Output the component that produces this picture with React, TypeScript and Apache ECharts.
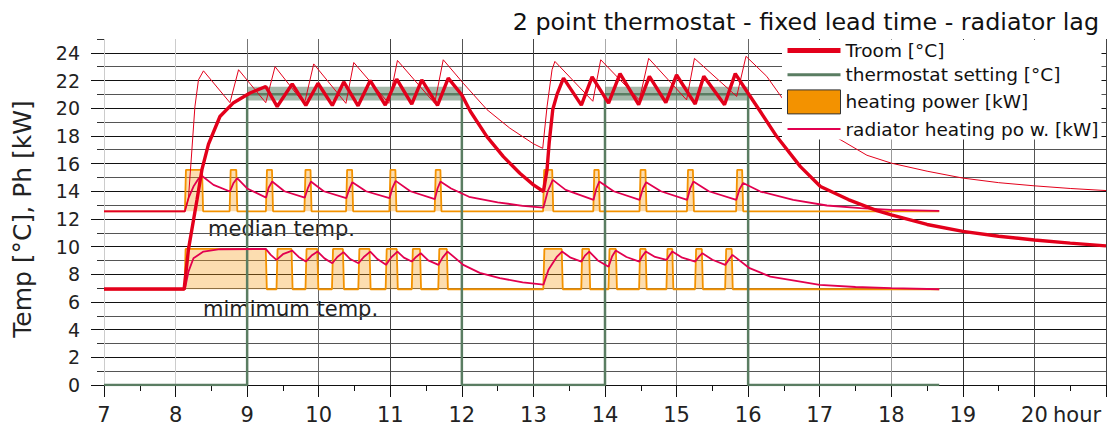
import React, { useEffect, useRef } from "react";
import * as echarts from "echarts";

const FONT = '"DejaVu Sans", "Liberation Sans", sans-serif';

// ---------- data ----------
const xLabelValues = [7, 8, 9, 10, 11, 12, 13, 14, 15, 16, 17, 18, 19, 20];
const yLabelValues = [0, 2, 4, 6, 8, 10, 12, 14, 16, 18, 20, 22, 24];

// thermostat schedule
const thermostatSetting: [number, number][] = [
  [7, 0], [9, 0], [9, 21], [12, 21], [12, 0], [14, 0], [14, 21], [16, 21], [16, 0], [18.67, 0],
];
const thermostatBand = { low: 20.55, high: 21.55 };
const thermostatOnPeriods: [number, number][] = [[9, 12], [14, 16]];

// Troom, minimum-temp scenario (thick line)
const troomMin: [number, number][] = [
  [7, 6.94], [8.12, 6.94], [8.18, 9.8], [8.3, 13.4], [8.37, 15.6], [8.46, 17.4], [8.62, 19.4],
  [8.81, 20.4], [9.04, 21.1], [9.26, 21.57], [9.42, 20.12], [9.63, 21.76], [9.82, 20.2],
  [9.99, 21.8], [10.19, 20.2], [10.35, 21.9], [10.55, 20.17], [10.72, 22.0], [10.93, 20.22],
  [11.09, 22.1], [11.3, 20.3], [11.44, 22.05], [11.66, 20.2], [11.81, 22.17], [12.0, 20.95],
  [12.12, 19.76], [12.35, 17.95], [12.58, 16.5], [12.81, 15.3], [13.0, 14.46], [13.14, 13.98],
  [13.19, 15.55], [13.22, 17.5], [13.27, 19.9], [13.33, 21.0], [13.42, 22.17], [13.67, 20.22],
  [13.82, 22.27], [14.05, 20.37], [14.21, 22.49], [14.47, 20.25], [14.62, 22.3], [14.85, 20.4],
  [15.0, 22.4], [15.26, 20.3], [15.38, 22.3], [15.67, 20.25], [15.82, 22.5], [15.99, 21.15],
  [16.17, 19.76], [16.4, 17.95], [16.73, 15.78], [17.01, 14.34], [17.4, 13.4], [17.8, 12.6],
  [18.0, 12.3], [18.5, 11.6], [19.0, 11.1], [19.5, 10.75], [20.0, 10.48], [20.5, 10.25], [21.0, 10.05],
];

// Troom, median-temp scenario (thin line)
const troomMedian: [number, number][] = [
  [7, 12.55], [8.13, 12.55], [8.18, 13.5], [8.22, 16.4], [8.27, 20.1], [8.32, 22.05], [8.39, 22.7],
  [8.76, 20.4], [8.88, 22.78], [9.26, 20.4], [9.39, 23.0], [9.8, 20.3], [9.93, 23.2],
  [10.38, 20.35], [10.49, 23.3], [10.98, 20.35], [11.1, 23.45], [11.62, 20.35], [11.74, 23.5],
  [12.02, 21.8], [12.35, 19.9], [12.67, 18.56], [13.0, 17.43], [13.13, 17.1], [13.19, 20.1],
  [13.26, 22.78], [13.3, 23.38], [13.83, 20.5], [13.94, 23.5], [14.48, 20.6], [14.61, 23.6],
  [15.14, 20.6], [15.25, 23.6], [15.84, 20.85], [15.97, 23.75], [16.26, 22.3], [16.48, 20.7],
  [17.0, 18.6], [17.66, 16.6], [18.0, 16.03], [18.5, 15.45], [19.0, 14.95], [19.5, 14.62],
  [20.0, 14.39], [20.5, 14.2], [21.0, 14.05],
];

// heating power pulses [on, off] in hours
const powerMedianPulses: [number, number][] = [
  [8.13, 8.37], [8.755, 8.848], [9.262, 9.347], [9.8, 9.885], [10.382, 10.466], [10.987, 11.071],
  [11.62, 11.7], [13.135, 13.262], [13.836, 13.912], [14.482, 14.565], [15.145, 15.228], [15.832, 15.916],
];
const powerMedianBase = 12.55;
const powerMedianOn = 15.55;

const powerMinPulses: [number, number][] = [
  [8.125, 9.26], [9.41, 9.62], [9.815, 9.98], [10.185, 10.338], [10.553, 10.71], [10.935, 11.09],
  [11.3, 11.415], [11.67, 11.79], [13.138, 13.395], [13.668, 13.778], [14.048, 14.152],
  [14.476, 14.567], [14.858, 14.94], [15.258, 15.353], [15.678, 15.77],
];
const powerMinBase = 6.92;
const powerMinOn = 9.83;
const powerEnd = 18.67;

// radiator heating power
const radiatorMedian: [number, number][] = [
  [7, 12.55], [8.13, 12.55], [8.18, 13.5], [8.25, 14.34], [8.32, 14.9], [8.37, 15.1], [8.53, 14.46],
  [8.76, 13.98], [8.81, 14.6], [8.86, 14.94], [9.0, 14.2], [9.265, 13.54], [9.3, 14.25], [9.35, 14.7],
  [9.52, 14.0], [9.805, 13.54], [9.85, 14.25], [9.89, 14.7], [10.07, 14.0], [10.385, 13.5],
  [10.43, 14.2], [10.47, 14.65], [10.66, 14.0], [10.99, 13.5], [11.03, 14.25], [11.075, 14.75],
  [11.28, 14.0], [11.623, 13.43], [11.66, 14.2], [11.7, 14.7], [11.85, 14.2], [12.1, 13.6],
  [12.5, 13.2], [12.85, 12.95], [13.14, 12.82], [13.2, 14.0], [13.27, 14.82], [13.45, 14.1],
  [13.84, 13.38], [13.88, 14.2], [13.92, 14.7], [14.12, 14.0], [14.484, 13.38], [14.53, 14.2],
  [14.575, 14.65], [14.78, 14.0], [15.148, 13.38], [15.19, 14.2], [15.235, 14.7], [15.45, 14.0],
  [15.835, 13.38], [15.88, 14.15], [15.93, 14.6], [16.17, 13.98], [16.63, 13.38], [17.1, 12.97],
  [17.57, 12.78], [18.0, 12.65], [18.67, 12.58],
];

const radiatorMin: [number, number][] = [
  [7, 6.92], [8.13, 6.92], [8.18, 8.19], [8.25, 9.16], [8.39, 9.64], [8.62, 9.81], [9.26, 9.83],
  [9.33, 9.4], [9.41, 9.04], [9.5, 9.45], [9.63, 9.71], [9.72, 9.25], [9.82, 8.92], [9.9, 9.35],
  [9.985, 9.64], [10.08, 9.15], [10.19, 8.8], [10.26, 9.25], [10.345, 9.6], [10.44, 9.1],
  [10.556, 8.8], [10.63, 9.25], [10.72, 9.64], [10.82, 9.1], [10.94, 8.68], [11.01, 9.2],
  [11.1, 9.64], [11.19, 9.2], [11.3, 8.92], [11.36, 9.25], [11.425, 9.52], [11.53, 9.0],
  [11.673, 8.68], [11.73, 9.2], [11.8, 9.64], [12.02, 8.68], [12.25, 8.1], [12.53, 7.72],
  [12.85, 7.42], [13.14, 7.25], [13.21, 8.32], [13.33, 9.28], [13.4, 9.64], [13.52, 9.2],
  [13.67, 8.92], [13.72, 9.35], [13.78, 9.64], [13.9, 9.0], [14.05, 8.55], [14.1, 9.3],
  [14.15, 9.72], [14.3, 9.25], [14.48, 8.92], [14.52, 9.3], [14.57, 9.64], [14.7, 9.25],
  [14.86, 9.04], [14.9, 9.35], [14.94, 9.64], [15.08, 9.2], [15.26, 8.92], [15.31, 9.25],
  [15.36, 9.52], [15.5, 9.05], [15.68, 8.68], [15.73, 9.05], [15.78, 9.4], [16.02, 8.44],
  [16.31, 7.83], [16.73, 7.47], [17.0, 7.23], [17.5, 7.08], [18.0, 7.0], [18.67, 6.92],
];

// ---------- styles ----------
const RED = "#e3001b";
const RAD = "#e2004f";
const GREEN = "#5a7d62";
const ORANGE = "#f39200";
const RAMP = 0.015;

const xGridColors = [
  "#cccccc", "#cccccc", "#777777", "#666666", "#444444", "#555555", "#444444", "#aaaaaa",
  "#888888", "#666666", "#333333", "#999999", "#333333", "#555555", "#444444",
];

function pulseLine(pulses: [number, number][], base: number, on: number, end: number) {
  const pts: [number, number][] = [[7, base]];
  for (const [a, b] of pulses) {
    pts.push([a, base], [a + RAMP, on], [b, on], [b + RAMP, base]);
  }
  pts.push([end, base]);
  return pts;
}

export default function App() {
  const ref = useRef<HTMLDivElement>(null);
  useEffect(() => {
    if (!ref.current) return;
    const chart = echarts.init(ref.current, undefined, { renderer: "svg" });
    const powerSeries = (data: [number, number][], origin: number) => ({
      type: "line",
      name: "heating power [kW]",
      data,
      symbol: "none",
      color: ORANGE,
      lineStyle: { color: ORANGE, width: 1.8 },
      areaStyle: { color: "rgba(247,157,30,0.5)", origin },
      z: 1,
    });
    const hidden = { opacity: 0 };
    const option: any = {
      animation: false,
      textStyle: { fontFamily: FONT },
      grid: { left: 104, right: 3, top: 39, bottom: 45, containLabel: false },
      xAxis: {
        type: "value",
        min: 7,
        max: 21,
        interval: 1,
        axisLine: { show: true, lineStyle: { color: "#111", width: 1 } },
        axisTick: { show: true, length: 12, lineStyle: { color: "#111" } },
        minorTick: { show: true, splitNumber: 2, length: 6, lineStyle: { color: "#111" } },
        axisLabel: {
          fontSize: 21,
          color: "#222",
          margin: 19,
          fontFamily: FONT,
          formatter: (v: number) => (xLabelValues.includes(v) ? String(v) : ""),
        },
        splitLine: { show: true, lineStyle: { color: xGridColors, width: 1 } },
      },
      yAxis: [
        {
          type: "value",
          min: 0,
          max: 25,
          interval: 1,
          position: "left",
          axisLine: { show: false },
          axisTick: { show: true, length: 7, lineStyle: { color: "#333" } },
          axisLabel: { show: false },
          splitLine: { show: true, showMaxLine: false, lineStyle: { color: ["#111", "#555"], width: 1 } },
        },
        {
          type: "value",
          min: 0,
          max: 25,
          interval: 1,
          position: "left",
          axisLine: { show: false },
          axisTick: { show: true, length: 13, customValues: yLabelValues, lineStyle: { color: "#111" } },
          axisLabel: { show: true, customValues: yLabelValues, fontSize: 19, color: "#222", margin: 24, fontFamily: FONT },
          splitLine: { show: false },
        },
      ],
      legend: {
        data: [
          { name: "Troom [°C]", lineStyle: { width: 5 }, itemStyle: hidden },
          { name: "thermostat setting [°C]", lineStyle: { width: 3 }, itemStyle: hidden },
          { name: "heating power [kW]", icon: "rect", itemStyle: { color: ORANGE, borderColor: "#333", borderWidth: 1 } },
          { name: "radiator heating po w. [kW]", lineStyle: { width: 2 }, itemStyle: hidden },
        ],
        orient: "vertical",
        left: 782,
        top: 40,
        padding: [1, 3, 1, 3],
        backgroundColor: "#ffffff",
        itemWidth: 53,
        itemHeight: 24,
        itemGap: 5,
        selectedMode: false,
        textStyle: { fontSize: 18.5, color: "#111", fontFamily: FONT },
        z: 10,
      },
      graphic: [
        {
          type: "text",
          x: 1099,
          y: 21.7,
          style: { text: "2 point thermostat - fixed lead time - radiator lag", fontSize: 23.8, fontFamily: FONT, fill: "#111", align: "right", verticalAlign: "middle" },
        },
        {
          type: "text",
          x: 22,
          y: 219,
          rotation: Math.PI / 2,
          style: { text: "Temp [°C], Ph [kW]", fontSize: 25, fontFamily: FONT, fill: "#222", align: "center", verticalAlign: "middle" },
        },
        {
          type: "text",
          x: 208,
          y: 229,
          style: { text: "median temp.", fontSize: 21, fontFamily: FONT, fill: "#222", verticalAlign: "middle" },
        },
        {
          type: "text",
          x: 203,
          y: 309,
          style: { text: "mimimum temp.", fontSize: 21, fontFamily: FONT, fill: "#222", verticalAlign: "middle" },
        },
        {
          type: "text",
          x: 1053,
          y: 415,
          style: { text: "hour", fontSize: 21, fontFamily: FONT, fill: "#222", verticalAlign: "middle" },
        },
      ],
      series: [
        powerSeries(pulseLine(powerMedianPulses, powerMedianBase, powerMedianOn, powerEnd), powerMedianBase),
        powerSeries(pulseLine(powerMinPulses, powerMinBase, powerMinOn, powerEnd), powerMinBase),
        {
          type: "line",
          name: "thermostat setting [°C]",
          data: thermostatSetting,
          symbol: "none",
          color: GREEN,
          lineStyle: { color: GREEN, width: 2.5 },
          z: 2,
          markArea: {
            silent: true,
            itemStyle: { color: "rgba(90,125,98,0.55)" },
            data: thermostatOnPeriods.map(([a, b]) => [
              { xAxis: a, yAxis: thermostatBand.low },
              { xAxis: b, yAxis: thermostatBand.high },
            ]),
          },
        },
        {
          type: "line",
          name: "radiator heating po w. [kW]",
          data: radiatorMedian,
          symbol: "none",
          color: RAD,
          lineStyle: { color: RAD, width: 1.8 },
          z: 3,
        },
        {
          type: "line",
          name: "radiator heating po w. [kW]",
          data: radiatorMin,
          symbol: "none",
          color: RAD,
          lineStyle: { color: RAD, width: 1.8 },
          z: 3,
        },
        {
          type: "line",
          name: "Troom median [°C]",
          data: troomMedian,
          symbol: "none",
          color: RED,
          lineStyle: { color: RED, width: 1 },
          z: 4,
        },
        {
          type: "line",
          name: "Troom [°C]",
          data: troomMin,
          symbol: "none",
          color: RED,
          lineStyle: { color: RED, width: 3.4 },
          z: 5,
        },
      ],
    };
    chart.setOption(option);
    return () => chart.dispose();
  }, []);
  return <div ref={ref} style={{ position: "absolute", left: 0, top: 0, width: 1109, height: 430 }} />;
}
